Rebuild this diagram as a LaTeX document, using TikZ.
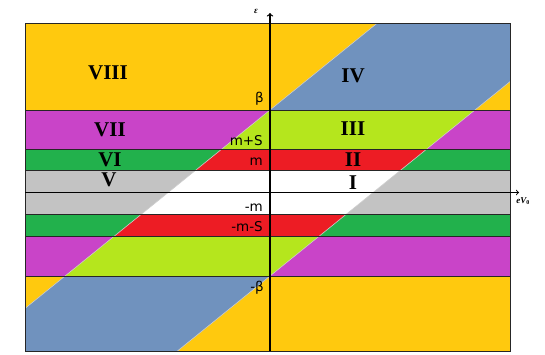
\documentclass[tikz,border=0pt]{standalone}
\usepackage{fontspec}
\setmainfont{Liberation Serif}
\newfontfamily\labelfont{DejaVu Sans}
\definecolor{bandorange}{HTML}{FFC90E}
\definecolor{bandblue}{HTML}{7092BE}
\definecolor{bandmagenta}{HTML}{C944C8}
\definecolor{bandlime}{HTML}{B5E61D}
\definecolor{bandgreen}{HTML}{22B14C}
\definecolor{bandred}{HTML}{ED1C24}
\definecolor{bandgrey}{HTML}{C3C3C3}
\tikzset{
  numlabel/.style={font=\fontsize{21}{21}\selectfont\bfseries},
  edgelabel/.style={font=\labelfont\fontsize{13.5}{14}\selectfont, anchor=base east, inner sep=0pt},
  bandline/.style={draw=black!85, line width=0.8pt},
  slantline/.style={draw=gray!40, line width=0.6pt}
}
\begin{document}
\begin{tikzpicture}[x=1pt,y=-1pt]
    \useasboundingbox (0,0) rectangle (545,354);
    % outer bands
    \fill[bandorange] (25,23) rectangle (510,110);
    \fill[bandmagenta] (25,110) rectangle (510,149);
    \fill[bandgreen] (25,149) rectangle (510,170);
    \fill[bandgrey] (25,170) rectangle (510,214);
    \fill[bandgreen] (25,214) rectangle (510,236);
    \fill[bandmagenta] (25,236) rectangle (510,276);
    \fill[bandorange] (25,276) rectangle (510,351);

    % inner bands between the slanted lines
    \begin{scope}
    \clip (-100,409.7) -- (600,-157.3) -- (600,8.7) -- (-100,575.7) -- cycle;
    \fill[bandblue] (25,23) rectangle (510,110);
    \fill[bandlime] (25,110) rectangle (510,149);
    \fill[bandred] (25,149) rectangle (510,170);
    \fill[white] (25,170) rectangle (510,214);
    \fill[bandred] (25,214) rectangle (510,236);
    \fill[bandlime] (25,236) rectangle (510,276);
    \fill[bandblue] (25,276) rectangle (510,351);
    \end{scope}

    \begin{scope}
    \clip (25,23) rectangle (510,351);
    \draw[slantline] (-100,409.7) -- (600,-157.3);
    \draw[slantline] (-100,575.7) -- (600,8.7);
    \end{scope}

    \foreach \y in {110,149,170,214,236,276}
        \draw[bandline] (25,\y) -- (510,\y);
    \draw[bandline] (25,23) rectangle (510,351);

    % axes
    \coordinate (xstart) at (25,192.5);
    \coordinate (xend) at (519,192.5);
    \coordinate (ystart) at (270,351);
    \coordinate (yend) at (270,13);
    \draw[->,line width=1pt] (xstart) -- (xend);
    \draw[->,line width=1.3pt] (ystart) -- (yend);
    \node (epslabel) at (256,11) {\fontsize{9}{9}\selectfont\bfseries\itshape ε};
    \node (evlabel) at (523,201) {\fontsize{9}{9}\selectfont\bfseries\itshape eV\textsubscript{\upshape 0}};

    % region numbers
    \node[numlabel] (viii) at (108,73) {VIII};
    \node[numlabel] (iv) at (353,76) {IV};
    \node[numlabel] (vii) at (110,130) {VII};
    \node[numlabel] (iii) at (353,128.5) {III};
    \node[numlabel] (vi) at (110,160) {VI};
    \node[numlabel] (ii) at (353,159.5) {II};
    \node[numlabel] (v) at (109,180) {V};
    \node[numlabel] (i) at (353,183) {I};

    % levels on the axis
    \node[edgelabel] (beta) at (264,102) {β};
    \node[edgelabel] (mpluss) at (263,145) {m+S};
    \node[edgelabel] (mlevel) at (263,165.5) {m};
    \node[edgelabel] (mminus) at (263,211.5) {-m};
    \node[edgelabel] (mminuss) at (263,231.5) {-m-S};
    \node[edgelabel] (betaminus) at (264,291) {-β};
\end{tikzpicture}
\end{document}
